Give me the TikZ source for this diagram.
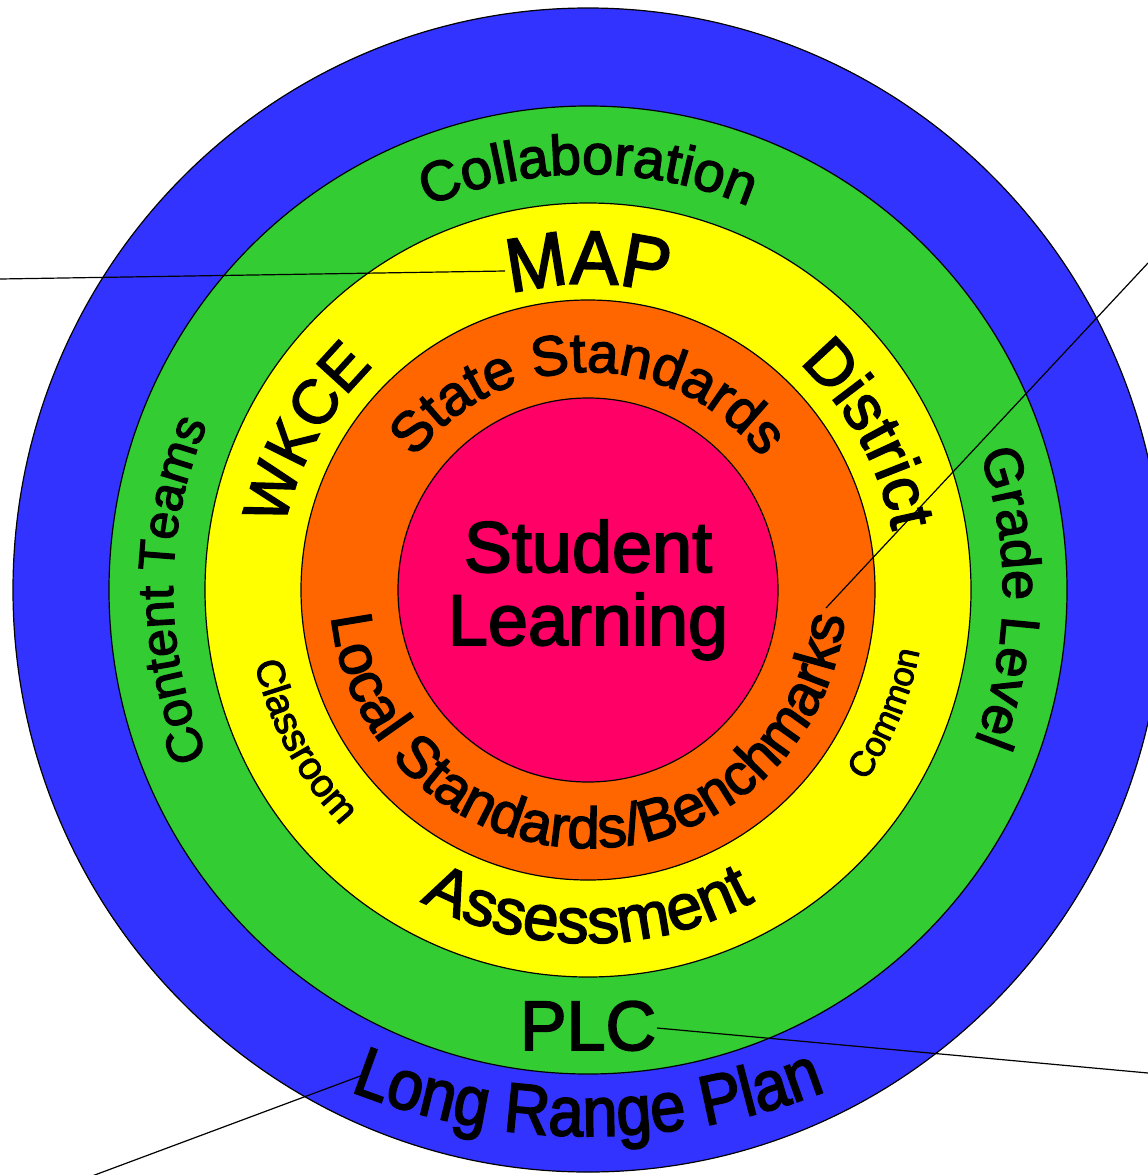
\documentclass[tikz,border=0pt]{standalone}
\usepackage{fontspec}
\setmainfont{Liberation Sans}[FakeBold=2.5]
\newfontfamily\narrowf{Liberation Sans}[FakeBold=2.5, FakeStretch=0.9]
\newfontfamily\semif{Liberation Sans}[FakeBold=2.5, FakeStretch=0.95]
\usetikzlibrary{decorations.text}
\newcommand\fsz[1]{\fontsize{#1}{#1}\selectfont}
\definecolor{ringblue}{RGB}{51,51,255}
\definecolor{ringgreen}{RGB}{51,204,51}
\definecolor{ringyellow}{RGB}{255,255,0}
\definecolor{ringorange}{RGB}{255,102,0}
\definecolor{ringpink}{RGB}{255,0,102}
\tikzset{
  ring/.style={draw=black, line width=1.2pt},
  arctext/.style={decorate, decoration={text along path, text align=center, text={#1}}},
  leader/.style={draw=black, line width=1.2pt},
  flat/.style={anchor=base, inner sep=0pt, text=black},
}
\begin{document}
\begin{tikzpicture}
\useasboundingbox (0pt,0pt) rectangle (1148pt,-1175pt);
\fill[white] (0pt,0pt) rectangle (1148pt,-1175pt);
\clip (0pt,0pt) rectangle (1148pt,-1175pt);
\begin{scope}[shift={(588pt,-590pt)}]
  \draw[ring, fill=ringblue]   (0,0) ellipse [x radius=575pt, y radius=582pt];
  \draw[ring, fill=ringgreen]  (0,0) ellipse [x radius=479pt, y radius=484pt];
  \draw[ring, fill=ringyellow] (0,0) ellipse [x radius=383pt, y radius=387pt];
  \draw[ring, fill=ringorange] (0,0) ellipse [x radius=287pt, y radius=290pt];
  \draw[ring, fill=ringpink]   (0,0) ellipse [x radius=190pt, y radius=192pt];

  % green ring
  \path[arctext={|\fsz{56}|Collaboration}] (150:416pt) arc[start angle=150, end angle=30, radius=416pt];
  \path[arctext={|\fsz{50}|Content Teams}] (240:415pt) arc[start angle=240, end angle=120, radius=415pt];
  \path[arctext={|\fsz{54}|Grade Level}] (59:415pt) arc[start angle=59, end angle=-61, radius=415pt];
  % yellow ring
  \path[arctext={|\semif\fsz{76}|MAP}] (150:306pt) arc[start angle=150, end angle=30, radius=306pt];
  \path[arctext={|\fsz{62}|WKCE}] (211:310pt) arc[start angle=211, end angle=91, radius=310pt];
  \path[arctext={|\fsz{64}|District}] (89:310pt) arc[start angle=89, end angle=-31, radius=310pt];
  \path[arctext={|\fsz{64}|Assessment}] (210:353pt) arc[start angle=210, end angle=330, radius=353pt];
  \path[arctext={|\fsz{39}|Classroom}] (168:341pt) arc[start angle=168, end angle=248, radius=341pt];
  \path[arctext={|\fsz{35}|Common}] (-62.5:337pt) arc[start angle=-62.5, end angle=17.5, radius=337pt];
  % orange ring
  \path[arctext={|\fsz{56}|State Standards}] (180:218pt) arc[start angle=180, end angle=0, radius=218pt];
  \path[arctext={|\fsz{58}|Local Standards/Benchmarks}] (170:258pt) arc[start angle=170, end angle=370, radius=258pt];
  % blue ring (flatter arc)
  \path[arctext={|\narrowf\fsz{70}|Long Range Plan}] ([shift={(0pt,104pt)}]225:650pt) arc[start angle=225, end angle=315, radius=650pt];

  % flat labels
  \node[flat, font=\fsz{72}] (student) at (0pt,18pt) {Student};
  \node[flat, font=\fsz{72}] (learning) at (0pt,-55pt) {Learning};
  \node[flat, font=\fsz{70}] (plc) at (0pt,-460pt) {PLC};
\end{scope}

% leader lines
\coordinate (mapL)   at (0pt,-279pt);
\coordinate (mapR)   at (505pt,-271pt);
\coordinate (benchA) at (826pt,-608pt);
\coordinate (benchB) at (1148pt,-263pt);
\coordinate (plcA)   at (657pt,-1028pt);
\coordinate (plcB)   at (1148pt,-1073pt);
\coordinate (lrpA)   at (363pt,-1075pt);
\coordinate (lrpB)   at (92pt,-1176pt);
\draw[leader] (mapL) -- (mapR);
\draw[leader] (benchA) -- (benchB);
\draw[leader] (plcA) -- (plcB);
\draw[leader] (lrpA) -- (lrpB);
\end{tikzpicture}
\end{document}
